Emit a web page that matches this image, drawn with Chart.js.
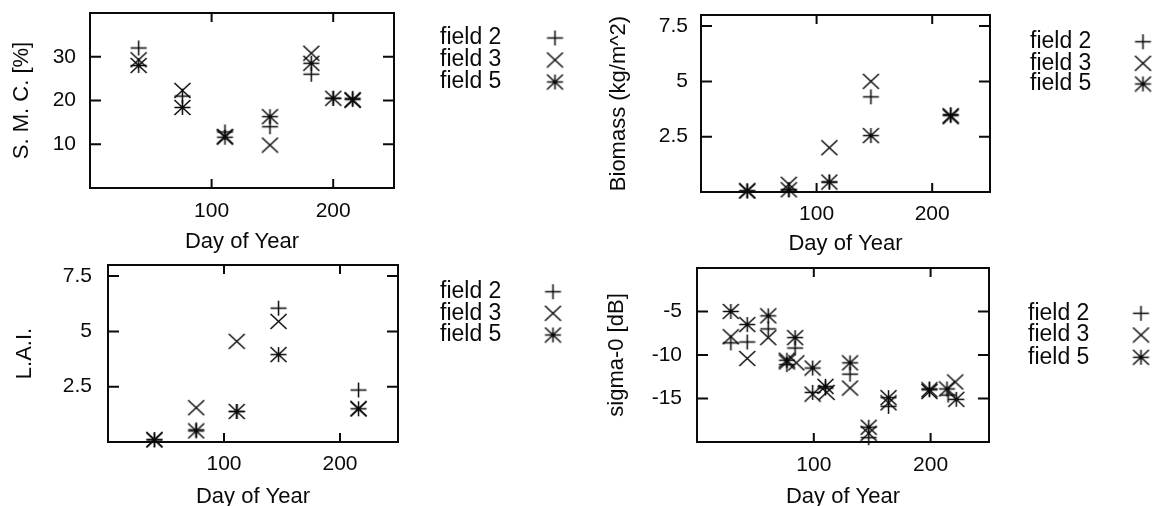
<!DOCTYPE html>
<html>
<head>
<meta charset="utf-8">
<script src="https://cdn.jsdelivr.net/npm/chart.js@4.4.0/dist/chart.umd.min.js"></script>
<style>
  body { margin: 0; background: #fff; width: 1155px; height: 506px; overflow: hidden; position: relative; }
  canvas { position: absolute; }
</style>
</head>
<body>
<canvas id="smcChart" style="left:0;top:0" width="578" height="262"></canvas>
<canvas id="biomassChart" style="left:578px;top:0" width="577" height="262"></canvas>
<canvas id="laiChart" style="left:0;top:250px" width="578" height="262"></canvas>
<canvas id="sigmaChart" style="left:578px;top:250px" width="577" height="262"></canvas>
<script>
// ---- data ----
var fieldNames = ['field 2', 'field 3', 'field 5'];
var xTicks = [100, 200];

var smcDays = [40, 76, 111, 148, 182, 200, 216];
var smcField2 = [32, 21, 12.8, 14, 26, 20.5, 20.5];
var smcField3 = [29.3, 22.3, 11.8, 9.8, 30.8, null, 20];
var smcField5 = [28, 18.4, 11.6, 16.3, 28.5, 20.5, 20.2];
var smcTicks = [10, 20, 30];

var cropDays = [40, 76, 111, 147, 216];
var biomassField2 = [0.05, 0.1, 0.45, 4.3, 3.5];
var biomassField3 = [0.05, 0.35, 2.0, 5.0, 3.4];
var biomassField5 = [0.05, 0.1, 0.45, 2.55, 3.45];
var laiField2 = [0.1, 0.55, 1.38, 6.05, 2.35];
var laiField3 = [0.1, 1.55, 4.55, 5.45, 1.5];
var laiField5 = [0.1, 0.5, 1.38, 3.95, 1.5];
var cropTicks = [2.5, 5, 7.5];

var sigmaDays2 = [29, 43, 61, 77, 84, 99, 110, 131, 147, 164, 199, 215];
var sigmaField2 = [-8.6, -8.5, -7.0, -11.1, -9.2, -14.3, -13.8, -12.2, -19.5, -15.9, -13.9, -14.6];
var sigmaDays3 = [29, 43, 61, 77, 85, 99, 111, 131, 147, 164, 199, 221];
var sigmaField3 = [-7.9, -10.4, -8.0, -10.8, -10.9, -14.5, -14.3, -13.8, -19.0, -15.5, -14.2, -13.1];
var sigmaDays5 = [29, 43, 61, 77, 84, 99, 110, 131, 147, 164, 199, 214, 222];
var sigmaField5 = [-5.0, -6.5, -5.5, -10.6, -8.0, -11.5, -13.6, -10.9, -18.3, -14.9, -14.0, -13.9, -15.1];
var sigmaTicks = [-15, -10, -5];

var INK = '#0a0a0a';
var FONT = "'Liberation Sans', Arial, Helvetica, sans-serif";
var TITLE_SIZE = 22;

// gnuplot-like marks: +, x and * (with a dot)
function makeMark(kind) {
    var c = document.createElement('canvas');
    c.width = 19; c.height = 17;
    var g = c.getContext('2d');
    var cx = 9.5, cy = 8.5, hx = 8, hy = 7.5;
    g.strokeStyle = INK;
    g.lineWidth = 1.5;
    g.beginPath();
    if (kind !== 'x') {
        g.moveTo(cx - hx, cy); g.lineTo(cx + hx, cy);
        g.moveTo(cx, cy - hy); g.lineTo(cx, cy + hy);
    }
    if (kind !== '+') {
        g.moveTo(cx - hx, cy - hy); g.lineTo(cx + hx, cy + hy);
        g.moveTo(cx - hx, cy + hy); g.lineTo(cx + hx, cy - hy);
    }
    g.stroke();
    if (kind === '*') {
        g.fillStyle = INK;
        g.beginPath(); g.arc(cx, cy, 1.7, 0, Math.PI * 2); g.fill();
    }
    return c;
}
var marks = [makeMark('+'), makeMark('x'), makeMark('*')];

function toPoints(days, vals) {
    var pts = [];
    for (var i = 0; i < days.length; i++) {
        if (vals[i] !== null) pts.push({ x: days[i], y: vals[i] });
    }
    return pts;
}

// box with inward ticks on all four sides, plus the legend at the right
var framePlugin = {
    id: 'frame',
    afterDatasetsDraw: function(chart) {
        var ctx = chart.ctx, a = chart.chartArea;
        var xs = chart.scales.x, ys = chart.scales.y;
        ctx.save();
        ctx.strokeStyle = INK;
        ctx.lineWidth = 2;
        ctx.strokeRect(a.left, a.top, a.right - a.left, a.bottom - a.top);
        ctx.beginPath();
        xs.ticks.forEach(function(t) {
            var px = xs.getPixelForValue(t.value);
            ctx.moveTo(px, a.bottom); ctx.lineTo(px, a.bottom - 9);
            ctx.moveTo(px, a.top); ctx.lineTo(px, a.top + 9);
        });
        ys.ticks.forEach(function(t) {
            var py = ys.getPixelForValue(t.value);
            ctx.moveTo(a.left, py); ctx.lineTo(a.left + 11, py);
            ctx.moveTo(a.right, py); ctx.lineTo(a.right - 11, py);
        });
        ctx.stroke();

        var lg = chart.options.plugins.frame;
        ctx.fillStyle = INK;
        ctx.font = '23px ' + FONT;
        ctx.textAlign = 'left';
        ctx.textBaseline = 'middle';
        chart.data.datasets.forEach(function(ds, i) {
            var y = lg.rows[i];
            ctx.fillText(ds.label, lg.textX, y);
            var m = ds.pointStyle;
            ctx.drawImage(m, lg.markX - m.width / 2, y - m.height / 2);
        });
        ctx.restore();
    }
};

function makePanel(canvasId, box, yTitle, yMin, yMax, yTicks, series) {
    var half = TITLE_SIZE * 1.2 / 2;
    var padLeft = box.yTitleX - half;
    var yWidth = box.left - padLeft;
    var xHeight = box.xTitleY + half - box.bottom;
    var padBottom = box.h - (box.xTitleY + half);

    var datasets = series.map(function(pts, i) {
        return {
            label: fieldNames[i],
            data: pts,
            pointStyle: marks[i],
            pointRadius: 8,
            showLine: false,
            clip: false
        };
    });

    var ctx = document.getElementById(canvasId).getContext('2d');
    return new Chart(ctx, {
        type: 'scatter',
        data: { datasets: datasets },
        plugins: [framePlugin],
        options: {
            responsive: false,
            animation: false,
            events: [],
            layout: { padding: { left: padLeft, top: box.top, right: box.w - box.right, bottom: padBottom } },
            plugins: {
                legend: { display: false },
                tooltip: { enabled: false },
                frame: box.legend
            },
            scales: {
                x: {
                    type: 'linear', min: 0, max: 250,
                    afterBuildTicks: function(s) { s.ticks = xTicks.map(function(v) { return { value: v }; }); },
                    afterFit: function(s) { s.height = xHeight; s.paddingLeft = 0; s.paddingRight = 0; },
                    grid: { display: false, drawTicks: false },
                    border: { display: false },
                    ticks: { color: INK, font: { family: FONT, size: 21 }, padding: box.xPad, maxRotation: 0,
                             callback: function(v) { return String(v); } },
                    title: { display: true, text: 'Day of Year', color: INK, padding: 0,
                             font: { family: FONT, size: TITLE_SIZE, lineHeight: 1.2 } }
                },
                y: {
                    type: 'linear', min: yMin, max: yMax,
                    afterBuildTicks: function(s) { s.ticks = yTicks.map(function(v) { return { value: v }; }); },
                    afterFit: function(s) { s.width = yWidth; s.paddingTop = 0; s.paddingBottom = 0; },
                    grid: { display: false, drawTicks: false },
                    border: { display: false },
                    ticks: { color: INK, font: { family: FONT, size: 21 }, padding: box.yPad,
                             callback: function(v) { return String(v); } },
                    title: { display: true, text: yTitle, color: INK, padding: 0,
                             font: { family: FONT, size: TITLE_SIZE, lineHeight: 1.2 } }
                }
            }
        }
    });
}

makePanel('smcChart',
    { w: 578, h: 262, left: 90, top: 13, right: 394, bottom: 188, yTitleX: 22, xTitleY: 242, xPad: 11, yPad: 14,
      legend: { textX: 440, markX: 555, rows: [38, 60, 82] } },
    'S. M. C. [%]', 0, 40, smcTicks,
    [toPoints(smcDays, smcField2), toPoints(smcDays, smcField3), toPoints(smcDays, smcField5)]);

makePanel('biomassChart',
    { w: 577, h: 262, left: 123, top: 15, right: 412, bottom: 192, yTitleX: 41, xTitleY: 244, xPad: 10, yPad: 13,
      legend: { textX: 452, markX: 565, rows: [41.7, 63.3, 84] } },
    'Biomass (kg/m^2)', 0, 8, cropTicks,
    [toPoints(cropDays, biomassField2), toPoints(cropDays, biomassField3), toPoints(cropDays, biomassField5)]);

makePanel('laiChart',
    { w: 578, h: 262, left: 108, top: 15, right: 398, bottom: 192, yTitleX: 25, xTitleY: 247, xPad: 10, yPad: 16,
      legend: { textX: 440, markX: 553, rows: [41.7, 63.3, 85] } },
    'L.A.I.', 0, 8, cropTicks,
    [toPoints(cropDays, laiField2), toPoints(cropDays, laiField3), toPoints(cropDays, laiField5)]);

makePanel('sigmaChart',
    { w: 577, h: 262, left: 119, top: 18, right: 411, bottom: 192, yTitleX: 38.7, xTitleY: 247, xPad: 11, yPad: 15,
      legend: { textX: 450, markX: 563, rows: [63.3, 85, 107.3] } },
    'sigma-0 [dB]', -20, 0, sigmaTicks,
    [toPoints(sigmaDays2, sigmaField2), toPoints(sigmaDays3, sigmaField3), toPoints(sigmaDays5, sigmaField5)]);
</script>
</body>
</html>
